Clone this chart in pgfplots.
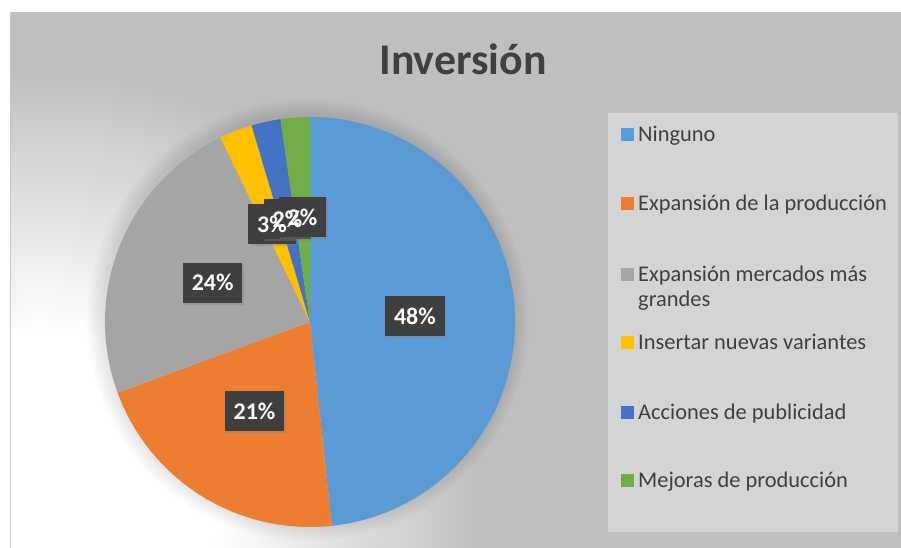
\documentclass[border=0pt]{standalone}
\usepackage{pgfplots}
\pgfplotsset{compat=1.18}
\usepackage{pgfplotstable}
\usepackage{fontspec}
\setmainfont{Carlito}
\usetikzlibrary{shadows}

\definecolor{pie0}{HTML}{5B9BD5}
\definecolor{pie1}{HTML}{ED7D31}
\definecolor{pie2}{HTML}{A5A5A5}
\definecolor{pie3}{HTML}{FFC000}
\definecolor{pie4}{HTML}{4472C4}
\definecolor{pie5}{HTML}{70AD47}
\definecolor{bggray}{HTML}{BFBFBF}
\definecolor{leggray}{HTML}{D4D4D4}
\definecolor{txt}{HTML}{404040}
\definecolor{lblbox}{HTML}{3F3F3F}

\pgfdeclareradialshading{glow}{\pgfpoint{0bp}{0bp}}{%
  color(0bp)=(white); color(10bp)=(white); color(25bp)=(bggray); color(50bp)=(bggray)}

\tikzset{
  lblbox/.style={fill=lblbox, minimum height=40bp, inner xsep=9bp,
    font=\fontsize{24}{28}\selectfont\bfseries,
    drop shadow={shadow xshift=1.5bp, shadow yshift=-2bp, opacity=0.35}},
  lbltxt/.style={text=white, minimum height=40bp, inner xsep=9bp,
    font=\fontsize{24}{28}\selectfont\bfseries},
  legtxt/.style={anchor=base west, inner sep=0pt, text=txt, font=\fontsize{22.5}{26}\selectfont},
}

% share in percent, label as printed
\pgfplotstableread{
value lab
48.3 48
21.1 21
23.4 24
2.6 3
2.3 2
2.3 2
}\pietable

\begin{document}
\begin{tikzpicture}
% cumulative angles, clockwise from 12 o'clock
\def\cum{0}
\pgfplotsforeachungrouped \i in {0,...,5}{%
  \pgfplotstablegetelem{\i}{value}\of\pietable
  \let\pv\pgfplotsretval
  \pgfmathsetmacro\sa{90-3.6*\cum}
  \pgfmathsetmacro\cum{\cum+\pv}
  \pgfmathsetmacro\ea{90-3.6*\cum}
  \pgfmathsetmacro\ma{(\sa+\ea)/2}
  \expandafter\xdef\csname pieS\i\endcsname{\sa}
  \expandafter\xdef\csname pieE\i\endcsname{\ea}
  \expandafter\xdef\csname pieM\i\endcsname{\ma}
  \pgfplotstablegetelem{\i}{lab}\of\pietable
  \expandafter\xdef\csname pieL\i\endcsname{\pgfplotsretval}%
}
\begin{axis}[
  x=1bp, y=1bp,
  xmin=0, xmax=901, ymin=0, ymax=548,
  hide axis, clip=false,
]
% background
\fill[white] (axis cs:0,0) rectangle (axis cs:901,548);
\fill[bggray] (axis cs:11,0) rectangle (axis cs:901,536);
\begin{scope}
  \clip (axis cs:11,0) rectangle (axis cs:901,536);
  \shade[shading=glow] (axis cs:40,40) circle (440bp);
\end{scope}
\draw[color=black!22, line width=1.2bp] (axis cs:10.5,0) -- (axis cs:10.5,536);

% title
\node[anchor=base, text=txt, font=\fontsize{44}{50}\selectfont\bfseries, inner sep=0pt]
  at (axis cs:463,473) {Inversión};

% soft shadow around the pie
\pgfplotsinvokeforeach{0,...,7}{
  \fill[black, opacity=0.012] (axis cs:308,228) circle ({221bp-2bp*#1});
}

% wedges
\pgfplotsinvokeforeach{0,...,5}{
  \fill[pie#1] (axis cs:310,226) -- ++({\csname pieS#1\endcsname}:205bp)
    arc[start angle=\csname pieS#1\endcsname, end angle=\csname pieE#1\endcsname, radius=205bp] -- cycle;
}
% data labels: boxes first, then the texts on top
\pgfplotsinvokeforeach{0,...,5}{
  \path (axis cs:310,226) ++({\csname pieM#1\endcsname}:105bp)
    node[lblbox] {\phantom{\csname pieL#1\endcsname\%}};
}
\pgfplotsinvokeforeach{0,...,5}{
  \path (axis cs:310,226) ++({\csname pieM#1\endcsname}:105bp)
    node[lbltxt] {\csname pieL#1\endcsname\%};
}

% legend
\fill[leggray] (axis cs:608,16) rectangle (axis cs:898,435);
\fill[pie0] (axis cs:621,407) rectangle (axis cs:634,420);
\node[legtxt] at (axis cs:638,406) {Ninguno};
\fill[pie1] (axis cs:621,338) rectangle (axis cs:634,351);
\node[legtxt] at (axis cs:638,337) {Expansión de la producción};
\fill[pie2] (axis cs:621,267) rectangle (axis cs:634,280);
\node[legtxt] at (axis cs:638,266) {Expansión mercados más};
\node[legtxt] at (axis cs:638,241) {grandes};
\fill[pie3] (axis cs:621,199) rectangle (axis cs:634,212);
\node[legtxt] at (axis cs:638,198) {Insertar nuevas variantes};
\fill[pie4] (axis cs:621,129) rectangle (axis cs:634,142);
\node[legtxt] at (axis cs:638,128) {Acciones de publicidad};
\fill[pie5] (axis cs:621,61) rectangle (axis cs:634,74);
\node[legtxt] at (axis cs:638,60) {Mejoras de producción};
\end{axis}
\pgfresetboundingbox
\useasboundingbox (current axis.south west) rectangle (current axis.north east);
\end{tikzpicture}
\end{document}
